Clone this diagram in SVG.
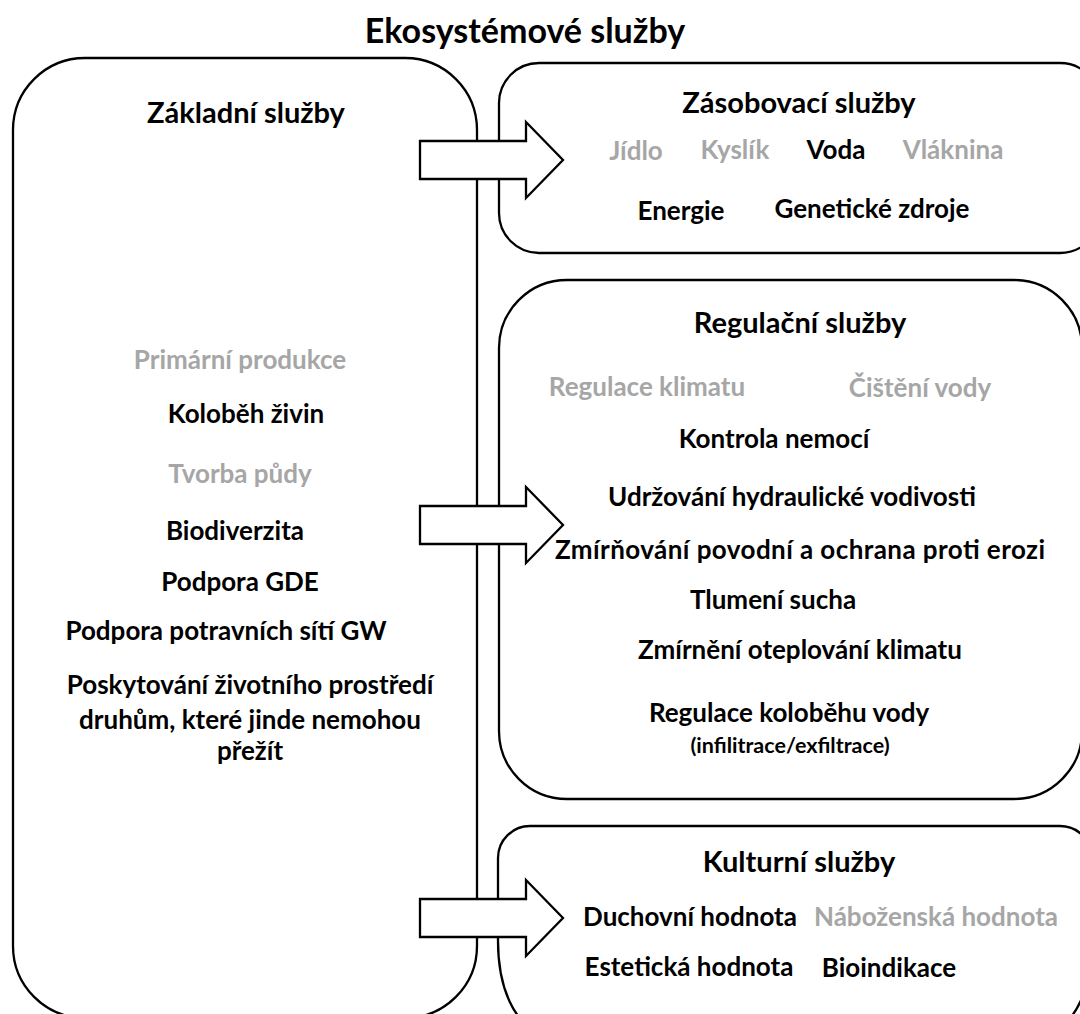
<svg xmlns="http://www.w3.org/2000/svg" width="1080" height="1014" viewBox="0 0 1080 1014">
<style>
  .box { fill: #ffffff; stroke: #000000; stroke-width: 2.3; }
  .arrow { fill: #ffffff; stroke: #000000; stroke-width: 2.3; stroke-linejoin: miter; }
  text { font-family: Lato, "Open Sans", "Liberation Sans", sans-serif; font-weight: 700; text-anchor: middle; fill: #000000; }
  .title { font-size: 34px; }
  .head { font-size: 29px; }
  .item { font-size: 26px; }
  .small { font-size: 21.5px; }
  .gray { fill: #a6a6a6; }
</style>
<rect width="1080" height="1014" fill="#ffffff"/>
<g id="title">
  <text class="title" x="525" y="43">Ekosystémové služby</text>
</g>
<g id="zakladni">
  <rect class="box" x="13" y="58" width="464" height="960" rx="72" ry="72"/>
  <text class="head" x="246" y="123">Základní služby</text>
  <text class="item gray" x="240" y="369">Primární produkce</text>
  <text class="item" x="246" y="423">Koloběh živin</text>
  <text class="item gray" x="240" y="483">Tvorba půdy</text>
  <text class="item" x="235" y="540">Biodiverzita</text>
  <text class="item" x="240" y="591">Podpora GDE</text>
  <text class="item" x="226" y="640">Podpora potravních sítí GW</text>
  <text class="item" x="250" y="694">Poskytování životního prostředí</text>
  <text class="item" x="250" y="729">druhům, které jinde nemohou</text>
  <text class="item" x="250" y="760">přežít</text>
</g>
<g id="zasobovaci">
  <rect class="box" x="499" y="63" width="601" height="190" rx="40" ry="40"/>
  <text class="head" x="799" y="113">Zásobovací služby</text>
  <text class="item gray" x="636" y="160">Jídlo</text>
  <text class="item gray" x="735" y="159">Kyslík</text>
  <text class="item" x="836" y="159">Voda</text>
  <text class="item gray" x="953" y="159">Vláknina</text>
  <text class="item" x="681" y="220">Energie</text>
  <text class="item" x="872" y="218">Genetické zdroje</text>
</g>
<g id="regulacni">
  <rect class="box" x="499" y="280" width="583" height="519" rx="68" ry="68"/>
  <text class="head" x="800" y="333">Regulační služby</text>
  <text class="item gray" x="647" y="396">Regulace klimatu</text>
  <text class="item gray" x="920" y="397">Čištění vody</text>
  <text class="item" x="774" y="448">Kontrola nemocí</text>
  <text class="item" x="792" y="506">Udržování hydraulické vodivosti</text>
  <text class="item" x="800" y="559" textLength="490">Zmírňování povodní a ochrana proti erozi</text>
  <text class="item" x="773" y="609">Tlumení sucha</text>
  <text class="item" x="800" y="659">Zmírnění oteplování klimatu</text>
  <text class="item" x="789" y="722">Regulace koloběhu vody</text>
  <text class="small" x="790" y="753">(infilitrace/exfiltrace)</text>
</g>
<g id="kulturni">
  <path class="box" d="M538,1027 A40,86 0 0 1 498,941 V858 A32,32 0 0 1 530,826 H1060 A32,32 0 0 1 1092,858 V941 A40,86 0 0 1 1052,1027 Z"/>
  <text class="head" x="799" y="872">Kulturní služby</text>
  <text class="item" x="690" y="926">Duchovní hodnota</text>
  <text class="item gray" x="936" y="926">Náboženská hodnota</text>
  <text class="item" x="689" y="976">Estetická hodnota</text>
  <text class="item" x="889" y="977">Bioindikace</text>
</g>
<g id="connectors">
  <path class="arrow" d="M420,141 H526 V122 L563,160 L526,198 V179 H420 Z"/>
  <path class="arrow" d="M420,506 H526 V487 L563,525 L526,563 V544 H420 Z"/>
  <path class="arrow" d="M420,899 H526 V880 L563,918 L526,956 V937 H420 Z"/>
</g>
</svg>
